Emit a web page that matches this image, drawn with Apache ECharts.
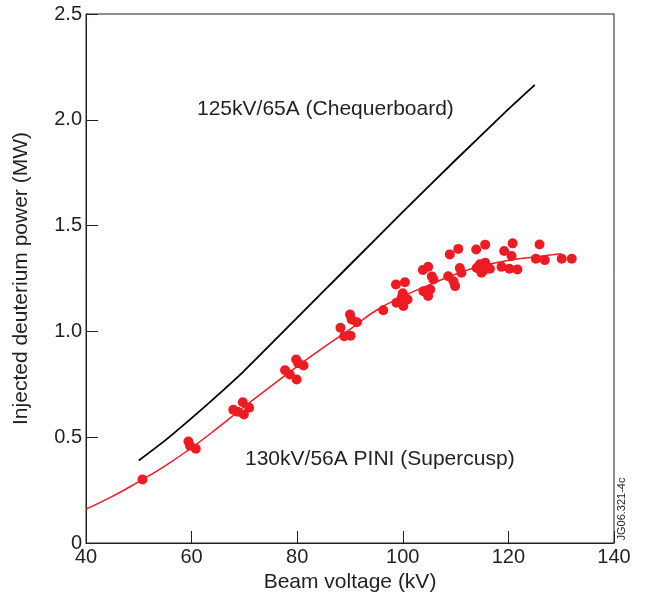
<!DOCTYPE html>
<html>
<head>
<meta charset="utf-8">
<script src="https://cdn.jsdelivr.net/npm/echarts@6/dist/echarts.min.js"></script>
<style>
  html, body { margin: 0; padding: 0; background: #fff; }
  #chart { width: 645px; height: 599px; }
</style>
</head>
<body>
<div id="chart"></div>
<script>
// beam voltage (kV) vs injected deuterium power (MW)
const X_TICKS = [40, 60, 80, 100, 120, 140];
const Y_TICKS = [0, 0.5, 1.0, 1.5, 2.0, 2.5];
const Y_TICK_LABELS = ["0", "0.5", "1.0", "1.5", "2.0", "2.5"];

// 125kV/65A chequerboard source (black curve)
const cheqX = [50, 55, 60, 65, 70, 80, 90, 100, 110, 120, 125];
const cheqY = [0.39, 0.485, 0.59, 0.70, 0.815, 1.065, 1.315, 1.565, 1.81, 2.05, 2.165];

// fit through the supercusp measurements (red curve)
const fitX = [40, 45, 50, 55, 60, 65, 70, 75, 80, 85, 90, 95, 100, 105, 110, 115, 120, 125, 130];
const fitY = [0.16, 0.22, 0.29, 0.365, 0.45, 0.545, 0.645, 0.74, 0.835, 0.925, 1.01, 1.10, 1.165, 1.22, 1.27, 1.31, 1.335, 1.352, 1.367];

// 130kV/56A PINI measurements
const shotX = [
  50.7,
  59.4, 59.7, 60.8,
  67.9, 68.7, 69.7, 69.9, 70.9,
  77.7, 78.6, 79.9, 79.8, 81.2, 80.2,
  88.2, 88.9, 90.0, 90.1, 91.3, 90.3,
  96.3,
  98.7, 100.4, 100.0, 98.8, 100.1, 100.9, 99.8,
  103.8, 104.8, 103.9, 105.2, 105.8, 104.8, 105.5,
  108.9, 110.5, 108.6, 109.9, 110.8, 111.1, 109.6,
  113.9, 115.6,
  114.0, 114.9, 115.6, 115.9, 116.5, 115.4, 114.6,
  118.7, 119.2, 120.2, 120.8, 120.6, 121.7,
  125.9, 125.2, 126.9, 130.1, 132.0
];
const shotY = [
  0.30,
  0.48, 0.46, 0.445,
  0.63, 0.62, 0.665, 0.607, 0.639,
  0.816, 0.796, 0.773, 0.867, 0.839, 0.85,
  1.017, 0.977, 1.08, 0.98, 1.043, 1.056,
  1.10,
  1.222, 1.232, 1.18, 1.135, 1.12, 1.151, 1.16,
  1.29, 1.305, 1.19, 1.198, 1.245, 1.167, 1.26,
  1.364, 1.39, 1.261, 1.214, 1.30, 1.277, 1.237,
  1.387, 1.41,
  1.30, 1.277, 1.325, 1.30, 1.296, 1.29, 1.317,
  1.305, 1.38, 1.296, 1.416, 1.356, 1.293,
  1.411, 1.343, 1.337, 1.343, 1.343
];

const INK = "#231f20";
const RED = "#ed1c24";
const FONT = "'Liberation Sans', Arial, Helvetica, sans-serif";

const zip = (xs, ys) => xs.map((x, i) => [x, ys[i]]);

const chart = echarts.init(document.getElementById("chart"), null, { renderer: "canvas" });

chart.setOption({
  animation: false,
  backgroundColor: "#fff",
  textStyle: { fontFamily: FONT, color: INK },
  grid: {
    left: 86,
    right: 31,
    top: 14,
    bottom: 56,
    show: true,
    borderColor: INK,
    borderWidth: 1,
  },
  xAxis: {
    type: "value",
    min: X_TICKS[0],
    max: X_TICKS[X_TICKS.length - 1],
    interval: 20,
    name: "Beam voltage (kV)",
    nameLocation: "middle",
    nameGap: 28,
    nameTextStyle: { fontSize: 21, color: INK, fontFamily: FONT },
    axisLine: { lineStyle: { color: INK, width: 1 } },
    axisTick: { inside: true, length: 12, lineStyle: { color: INK } },
    axisLabel: { color: INK, fontSize: 20, margin: 4, fontFamily: FONT },
    splitLine: { show: false },
  },
  yAxis: {
    type: "value",
    min: Y_TICKS[0],
    max: Y_TICKS[Y_TICKS.length - 1],
    interval: 0.5,
    name: "Injected deuterium power (MW)",
    nameLocation: "middle",
    nameGap: 54,
    nameTextStyle: { fontSize: 21, color: INK, fontFamily: FONT },
    axisLine: { show: true, lineStyle: { color: INK, width: 1 } },
    axisTick: { show: true, inside: true, length: 12, lineStyle: { color: INK } },
    axisLabel: {
      color: INK,
      fontSize: 20,
      margin: 4,
      fontFamily: FONT,
      formatter: (v) => Y_TICK_LABELS[Y_TICKS.indexOf(v)],
    },
    splitLine: { show: false },
  },
  graphic: [
    {
      type: "text",
      left: 197,
      top: 99,
      style: { text: "125kV/65A (Chequerboard)", fill: INK, font: "21px " + FONT },
    },
    {
      type: "text",
      left: 245,
      top: 449,
      style: { text: "130kV/56A PINI (Supercusp)", fill: INK, font: "21px " + FONT },
    },
    {
      type: "text",
      x: 622,
      y: 509,
      rotation: Math.PI / 2,
      style: {
        text: "JG06.321-4c",
        fill: INK,
        font: "11px " + FONT,
        align: "center",
        verticalAlign: "middle",
      },
    },
  ],
  series: [
    {
      name: "125kV/65A (Chequerboard)",
      type: "line",
      data: zip(cheqX, cheqY),
      smooth: 0.2,
      showSymbol: false,
      lineStyle: { color: "#000", width: 1.8 },
      z: 2,
    },
    {
      name: "fit",
      type: "line",
      data: zip(fitX, fitY),
      smooth: true,
      showSymbol: false,
      lineStyle: { color: RED, width: 1.5 },
      z: 2,
    },
    {
      name: "130kV/56A PINI (Supercusp)",
      type: "scatter",
      data: zip(shotX, shotY),
      symbol: "circle",
      symbolSize: 10,
      itemStyle: { color: RED, opacity: 1 },
      z: 3,
    },
  ],
});
</script>
</body>
</html>
